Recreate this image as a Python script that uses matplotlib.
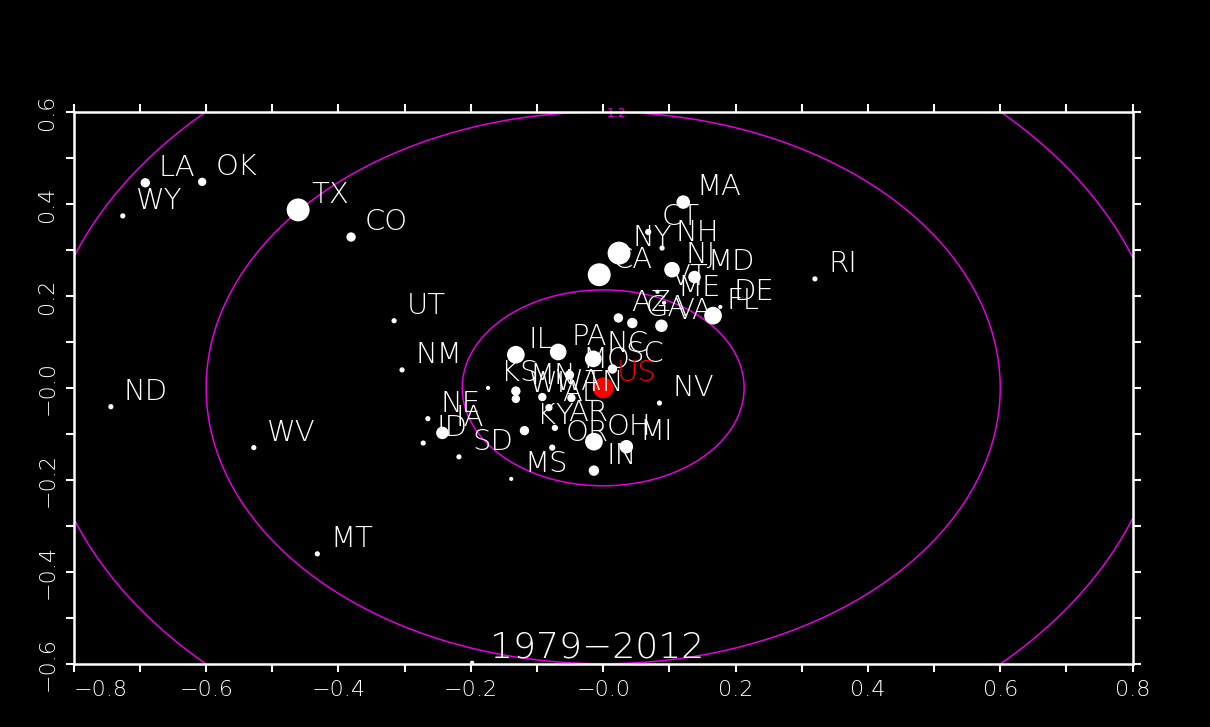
import numpy as np
import matplotlib.pyplot as plt

# state positions (x, y) and marker diameters in px
states = ['LA', 'OK', 'WY', 'TX', 'CO', 'UT', 'NM', 'ND', 'WV', 'MT', 'RI',
          'MA', 'CT', 'NH', 'NY', 'CA', 'NJ', 'MD', 'VT', 'ME', 'DE', 'FL',
          'AZ', 'VA', 'GA', 'IL', 'PA', 'NC', 'SC', 'MO', 'NV', 'NE', 'IA',
          'ID', 'SD', 'MS', 'KY', 'AR', 'OR', 'OH', 'MI', 'IN', 'KS', 'MN',
          'WI', 'WA', 'TN', 'AL']
xs = [-0.692, -0.606, -0.726, -0.461, -0.381, -0.316, -0.304, -0.744, -0.528,
      -0.432, 0.320, 0.121, 0.068, 0.089, 0.024, -0.006, 0.104, 0.138, 0.082,
      0.092, 0.177, 0.166, 0.023, 0.088, 0.044, -0.132, -0.068, -0.015, 0.014,
      -0.051, 0.085, -0.265, -0.243, -0.272, -0.218, -0.139, -0.119, -0.073,
      -0.077, -0.014, 0.035, -0.014, -0.174, -0.132, -0.132, -0.092, -0.048,
      -0.082]
ys = [0.446, 0.448, 0.374, 0.387, 0.328, 0.146, 0.039, -0.041, -0.130,
      -0.361, 0.237, 0.404, 0.339, 0.304, 0.293, 0.246, 0.257, 0.241, 0.209,
      0.185, 0.176, 0.157, 0.152, 0.135, 0.141, 0.072, 0.078, 0.063, 0.041,
      0.028, -0.033, -0.067, -0.098, -0.120, -0.150, -0.198, -0.093, -0.087,
      -0.130, -0.117, -0.128, -0.180, 0.0, -0.007, -0.024, -0.020, -0.022,
      -0.043]
sizes = [9, 8, 5, 22, 9, 5, 5, 5, 5, 5, 5,
         13, 6, 5, 22, 22, 15, 12, 4, 4, 4, 17,
         9, 12, 10, 17, 16, 16, 9, 9, 5, 5, 12,
         5, 5, 4, 9, 6, 6, 17, 13, 10, 4, 9,
         8, 8, 8, 7]

# unlabeled dot on the bottom edge
extra_x = [-0.198]
extra_y = [-0.598]

us_x, us_y = [0.0], [0.0]

ring_radii = [0.213, 0.6, 0.849]
ring_label = '1.2'
period = '1979\u22122012'

xticks = [-0.8, -0.6, -0.4, -0.2, 0.0, 0.2, 0.4, 0.6, 0.8]
xticklabels = ['\u22120.8', '\u22120.6', '\u22120.4', '\u22120.2', '\u22120.0',
               '0.2', '0.4', '0.6', '0.8']
yticks = [-0.6, -0.4, -0.2, 0.0, 0.2, 0.4, 0.6]
yticklabels = ['\u22120.6', '\u22120.4', '\u22120.2', '\u22120.0',
               '0.2', '0.4', '0.6']

fg = 'white'
mag = '#e000e0'
plt.rcParams['font.family'] = ['DejaVu Sans']

fig = plt.figure(figsize=(12.1, 7.27), dpi=100, facecolor='black')
ax = fig.add_axes([0.061, 0.087, 0.875, 0.759])
ax.set_facecolor('black')
ax.set_xlim(-0.8, 0.8)
ax.set_ylim(-0.6, 0.6)

# rings around the US point
gx, gy = np.meshgrid(np.linspace(-0.8, 0.8, 600), np.linspace(-0.6, 0.6, 450))
ax.contour(gx, gy, np.hypot(gx, gy), levels=ring_radii, colors=mag,
           linewidths=1.1, zorder=1)
ax.text(0.02, 0.597, ring_label, color=mag, fontsize=9, ha='center',
        va='center', zorder=2,
        bbox=dict(facecolor='black', edgecolor='none', pad=0.5))

ax.scatter(xs, ys, s=(np.array(sizes) * 0.75) ** 2, c='white',
           edgecolors='none', zorder=3)
ax.scatter(extra_x, extra_y, s=10, c='white', edgecolors='none', zorder=3,
           clip_on=False)
ax.scatter(us_x, us_y, s=(20 * 0.75) ** 2, c='red', edgecolors='none',
           zorder=4)

for name, x, y in zip(states, xs, ys):
    ax.annotate(name, (x, y), xytext=(9.4, 5), textcoords='offset points',
                color=fg, fontsize=21, fontweight='ultralight', ha='left',
                va='baseline', zorder=5)
ax.annotate('US', (us_x[0], us_y[0]), xytext=(10, 5),
            textcoords='offset points', color='red', fontsize=21,
            fontweight='ultralight', ha='left', va='baseline', zorder=5)

ax.text(0.494, 0.03, period, transform=ax.transAxes, color=fg, fontsize=26,
        fontweight='ultralight', ha='center', va='center', zorder=5)

ax.set_xticks(xticks)
ax.set_xticklabels(xticklabels)
ax.set_yticks(yticks)
ax.set_yticklabels(yticklabels, rotation=90, va='center')
ax.set_xticks(np.arange(-0.7, 0.8, 0.2), minor=True)
ax.set_yticks(np.arange(-0.5, 0.6, 0.2), minor=True)
ax.tick_params(which='both', direction='out', length=6, width=1.5,
               colors=fg, top=True, right=True, labelsize=16, pad=6)
ax.get_xticklabels()[0].set_ha('left')
for lab in ax.get_xticklabels() + ax.get_yticklabels():
    lab.set_fontweight('ultralight')
for sp in ax.spines.values():
    sp.set_color(fg)
    sp.set_linewidth(1.8)

fig.savefig('out.png', dpi=100, facecolor='black')
